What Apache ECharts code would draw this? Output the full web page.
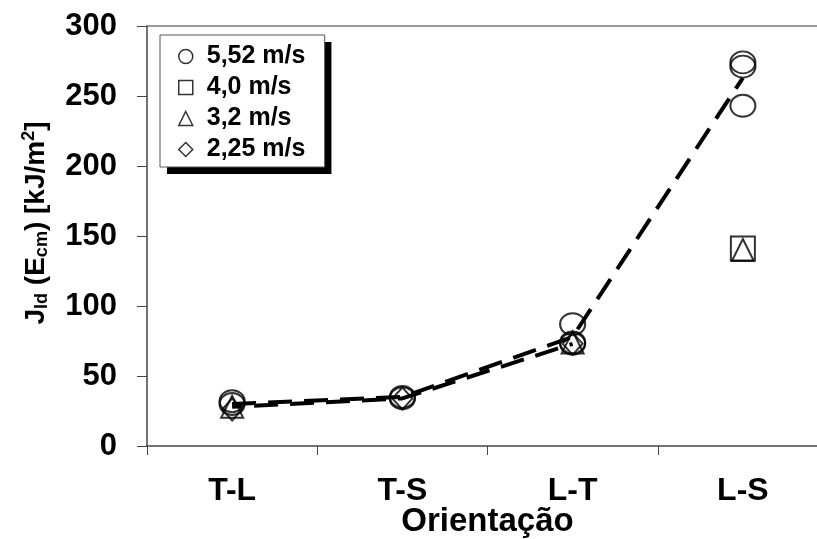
<!DOCTYPE html>
<html><head><meta charset="utf-8">
<script src="https://cdn.jsdelivr.net/npm/echarts@6/dist/echarts.min.js"></script>
<style>html,body{margin:0;padding:0;background:#fff}#c{width:817px;height:539px}</style>
</head><body><div id="c"></div>
<script>
const categories = ['T-L', 'T-S', 'L-T', 'L-S'];
const yTicks = [0, 50, 100, 150, 200, 250, 300];
// [category index, value]
const v552 = [[0, 32], [0, 30], [1, 35], [1, 34], [2, 87], [2, 73], [2, 74], [3, 274], [3, 271], [3, 243]];
const v40 = [[3, 141]];
const v32 = [[0, 28], [2, 74], [3, 140]];
const v225 = [[0, 26], [1, 34], [2, 73]];
const meanLine = [30, 35, 78, 263];
const meanLineLow = [28, 34, 73, null];
const names = ['5,52 m/s', '4,0 m/s', '3,2 m/s', '2,25 m/s'];

const FONT = 'Liberation Sans, Arial, sans-serif';
const mk = (name, data, symbol, size) => ({
  name, type: 'scatter', data, symbol, symbolSize: size,
  itemStyle: { color: 'rgba(255,255,255,0)', borderColor: '#000', borderWidth: 2 },
  z: 5
});
const legendBase = {
  orient: 'vertical', left: 160, top: 35,
  data: names,
  padding: [9, 19, 5, 18], itemGap: 6, itemWidth: 14, itemHeight: 14,
  textStyle: { fontFamily: FONT, fontWeight: 'bold', fontSize: 25, color: '#000', padding: [0, 0, 0, 9] }
};
const chart = echarts.init(document.getElementById('c'));
chart.setOption({
  animation: false,
  backgroundColor: '#fff',
  grid: { left: 147, top: 26, width: 681, height: 420, outerBoundsMode: 'none', containLabel: false },
  legend: [
    Object.assign({}, legendBase, {
      backgroundColor: '#fff', borderWidth: 0,
      shadowColor: '#000', shadowOffsetX: 7, shadowOffsetY: 7, shadowBlur: 0,
      itemStyle: { color: '#fff', borderColor: '#000', borderWidth: 1.5 }
    }),
    Object.assign({}, legendBase, {
      backgroundColor: 'rgba(0,0,0,0)', borderColor: '#555', borderWidth: 1,
      itemStyle: { opacity: 0 },
      textStyle: Object.assign({}, legendBase.textStyle, { color: 'rgba(0,0,0,0)' })
    })
  ],
  xAxis: [{
    type: 'category', data: categories, boundaryGap: true,
    axisLine: { lineStyle: { color: '#444', width: 1.5 } },
    axisTick: { show: true, length: 9, lineStyle: { color: '#444' } },
    axisLabel: { fontFamily: FONT, fontWeight: 'bold', fontSize: 32, color: '#000', margin: 29 },
    name: 'Orientação', nameLocation: 'middle', nameGap: 59, nameMoveOverlap: false,
    nameTextStyle: { fontFamily: FONT, fontWeight: 'bold', fontSize: 33, color: '#000' }
  }, {
    type: 'category', data: categories, position: 'top',
    axisLine: { show: true, onZero: false, lineStyle: { color: '#777', width: 1.5 } },
    axisTick: { show: false }, axisLabel: { show: false }
  }],
  yAxis: {
    type: 'value', min: 0, max: 300, interval: 50,
    axisLine: { show: true, lineStyle: { color: '#444', width: 1.5 } },
    axisTick: { show: true, length: 10, lineStyle: { color: '#444' } },
    splitLine: { show: false },
    axisLabel: { fontFamily: FONT, fontWeight: 'bold', fontSize: 31, color: '#000', margin: 30,
      formatter: v => yTicks.includes(v) ? String(v) : '' },
    name: 'J{sub|Id} (E{sub|cm}) [kJ/m{sup|2}]', nameLocation: 'middle', nameRotate: 90, nameGap: 95,
    nameMoveOverlap: false,
    nameTextStyle: {
      fontFamily: FONT, fontWeight: 'bold', fontSize: 28, color: '#000', padding: [0, 0, 0, 26],
      rich: {
        sub: { fontFamily: FONT, fontWeight: 'bold', fontSize: 18, color: '#000', padding: [12, 0, 0, 0] },
        sup: { fontFamily: FONT, fontWeight: 'bold', fontSize: 18, color: '#000', padding: [0, 0, 14, 0] }
      }
    }
  },
  series: [
    mk(names[0], v552, 'circle', [25, 22]),
    mk(names[1], v40, 'rect', [24, 24]),
    mk(names[2], v32, 'triangle', [22, 22]),
    mk(names[3], v225, 'diamond', [20, 22]),
    { name: 'mean', type: 'line', data: meanLine, symbol: 'none', z: 3,
      lineStyle: { color: '#000', width: 4, type: [24, 12] } },
    { name: 'meanLow', type: 'line', data: meanLineLow, symbol: 'none', z: 3,
      lineStyle: { color: '#000', width: 4, type: [24, 12], dashOffset: 14 } }
  ]
});
</script></body></html>
